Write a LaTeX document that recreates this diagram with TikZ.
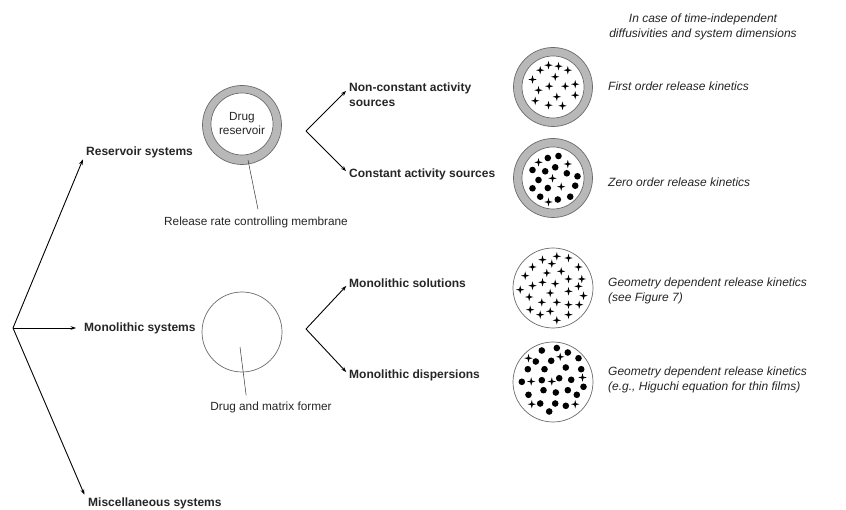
\documentclass[tikz,border=0pt]{standalone}
\usepackage{fontspec}
\setmainfont{Liberation Sans}
\usetikzlibrary{arrows.meta,calc}
\definecolor{ringgray}{HTML}{B8B8B8}
\definecolor{edgegray}{HTML}{6A6A6A}
\definecolor{txt}{HTML}{262626}
\tikzset{
  arr/.style={line width=0.9pt,-{Stealth[length=5.5pt,width=3.8pt]}},
  cat/.style={anchor=west,inner sep=0pt,font=\fontsize{12}{14}\selectfont\bfseries,text=txt},
  plain/.style={inner sep=0pt,font=\fontsize{11.8}{14}\selectfont,text=txt},
  note/.style={anchor=west,inner sep=0pt,align=left,font=\fontsize{12}{15}\selectfont\itshape,text=txt},
  outerring/.style={circle,draw=edgegray,line width=0.7pt,fill=ringgray,minimum size=79pt,inner sep=0pt},
  innerwhite/.style={circle,draw=edgegray,line width=0.7pt,fill=white,minimum size=62pt,inner sep=0pt},
  plaincirc/.style={circle,draw=edgegray,line width=0.7pt,fill=white,minimum size=80pt,inner sep=0pt},
  leader/.style={line width=0.5pt,draw=black!80},
}
\newcommand{\starmark}[2]{\fill[black] (#1-4.2,#2) -- (#1-0.9,#2-0.9) -- (#1,#2-4.2) -- (#1+0.9,#2-0.9) -- (#1+4.2,#2) -- (#1+0.9,#2+0.9) -- (#1,#2+4.2) -- (#1-0.9,#2+0.9) -- cycle;}
\newcommand{\dotmark}[2]{\fill[black] (#1,#2) circle[radius=3.3];}
\begin{document}
\begin{tikzpicture}[x=1pt,y=-1pt]
\useasboundingbox (0,0) rectangle (846,510);
\fill[white] (0,0) rectangle (846,510);

% root and first level
\coordinate (root) at (13,328);
\node[cat] (res) at (86,152) {Reservoir systems};
\node[cat] (mono) at (84,328) {Monolithic systems};
\node[cat] (misc) at (88,503) {Miscellaneous systems};
\draw[arr,shorten >=8pt] (root) -- (res.west);
\draw[arr,shorten >=8pt] (root) -- (mono.west);
\draw[arr,shorten >=9pt] (root) -- (misc.west);

% reservoir device
\node[outerring] (resring) at (242,125) {};
\node[innerwhite,align=center,font=\fontsize{11.8}{14}\selectfont,text=txt] (resin) at (242,124) {Drug\\reservoir};
\node[plain] (membrane) at (256,222) {Release rate controlling membrane};
\coordinate (m1) at (248,160);
\draw[leader] (m1) -- ($(membrane.north)+(2,-7)$);

% reservoir branches
\coordinate (j1) at (306,131);
\node[cat] (nc1) at (349,88) {Non-constant activity};
\node[cat,anchor=north west] (nc2) at (nc1.south west) {\rule{0pt}{13pt}sources};
\node[cat] (cs) at (349,174) {Constant activity sources};
\draw[arr,shorten >=4pt] (j1) -- (nc1.west);
\draw[arr,shorten >=4pt] (j1) -- (cs.west);

% monolithic device
\node[plaincirc] (monoc) at (242,332) {};
\node[plain] (matrix) at (271,407) {Drug and matrix former};
\coordinate (m2) at (240,347);
\draw[leader] (m2) -- ($(matrix.north west)+(36,-6)$);

% monolithic branches
\coordinate (j2) at (306,329);
\node[cat] (ms) at (349,283) {Monolithic solutions};
\node[cat] (md) at (349,375) {Monolithic dispersions};
\draw[arr,shorten >=4pt] (j2) -- (ms.west);
\draw[arr,shorten >=4pt] (j2) -- (md.west);

% header
\node[align=center,inner sep=0pt,font=\fontsize{12}{15}\selectfont\itshape,text=txt] (head) at (703,27) {In case of time-independent\\diffusivities and system dimensions};

% right column circles
\node[outerring] (c1) at (553,87) {};
\node[innerwhite] (c1i) at (553,87) {};
\node[outerring] (c2) at (553,178) {};
\node[innerwhite] (c2i) at (553,178) {};
\node[plaincirc] (c3) at (553,288) {};
\node[plaincirc] (c4) at (553,382) {};

\begin{scope}[shift={(553,87)}]
\foreach \a/\b in {-4.5/-21.8,5.5/-20.8,-12.8/-16.8,14.8/-16.8,-20.5/-7.5,2.2/-10.2,22.2/-2.8,-14.5/3.2,-3.8/-0.8,12.2/-0.8,3.8/9.8,22.2/8.2,-17.8/13.8,-4.5/18.2,9.5/18.8}{\starmark{\a}{\b}}
\end{scope}

\begin{scope}[shift={(553,178)}]
\foreach \a/\b in {-14.5/-15.7,14.8/-14,-0.5/0.3,8.2/8.7,-4.5/24}{\starmark{\a}{\b}}
\foreach \a/\b in {-5.2/-20,5.5/-22,-20.5/-8,-7.8/-6.7,2.2/-10.7,13.8/-4.7,24.5/-1.7,-14.5/2,-20.5/10.3,-5.2/10,22.2/7.7,-12.8/18.7,4.8/21.5,17.2/18.7}{\dotmark{\a}{\b}}
\end{scope}

\begin{scope}[shift={(553,288)}]
\foreach \a/\b in {3.8/-31.7,15.5/-30,-10.5/-28.3,-1.2/-24.3,-20.5/-21,25.5/-21,-6.2/-15,8.2/-16.7,-27.8/-12.3,-10.5/-5.7,2.2/-4.3,15.5/-9,28.8/-9,-20.5/-2.3,-32.8/1.7,-2.8/5,15.5/3.3,25.5/-1.7,30.5/7.7,-23.8/9,-11.2/14.3,3.8/14.3,15.5/16.7,26.2/16.7,-22.8/21.7,-12.8/26.7,-2.8/23.3,15.5/26.7,3.8/32.3}{\starmark{\a}{\b}}
\end{scope}

\begin{scope}[shift={(553,382)}]
\foreach \a/\b in {7.2/-25.2,-24.5/-23.8,29.5/-4.5,-21.8/-0.5,-1.2/-0.5,-21.2/22.2,22.2/22.2}{\starmark{\a}{\b}}
\foreach \a/\b in {-11.2/-31.5,3.8/-34,14.8/-29.5,-17.2/-20.5,-1.8/-21.2,25.5/-23.8,-25.2/-12.8,-8.5/-12.8,12.8/-14.5,28.2/-12.8,-31.2/-0.2,-11.2/-1.8,6.2/-3.8,18.2/-2.2,30.5/4.8,-24.5/12.8,-9.5/8.2,2.8/10.5,14.8/8.2,23.8/12.8,-12.8/21.5,2.2/21.5,12.8/23.8,-3.8/29.5}{\dotmark{\a}{\b}}
\end{scope}

% right notes
\node[note] (n1) at (608,86) {First order release kinetics};
\node[note] (n2) at (608,182) {Zero order release kinetics};
\node[note] (n3) at (608,290.5) {Geometry dependent release kinetics\\(see Figure 7)};
\node[note] (n4) at (608,379.5) {Geometry dependent release kinetics\\(e.g., Higuchi equation for thin films)};
\end{tikzpicture}
\end{document}
